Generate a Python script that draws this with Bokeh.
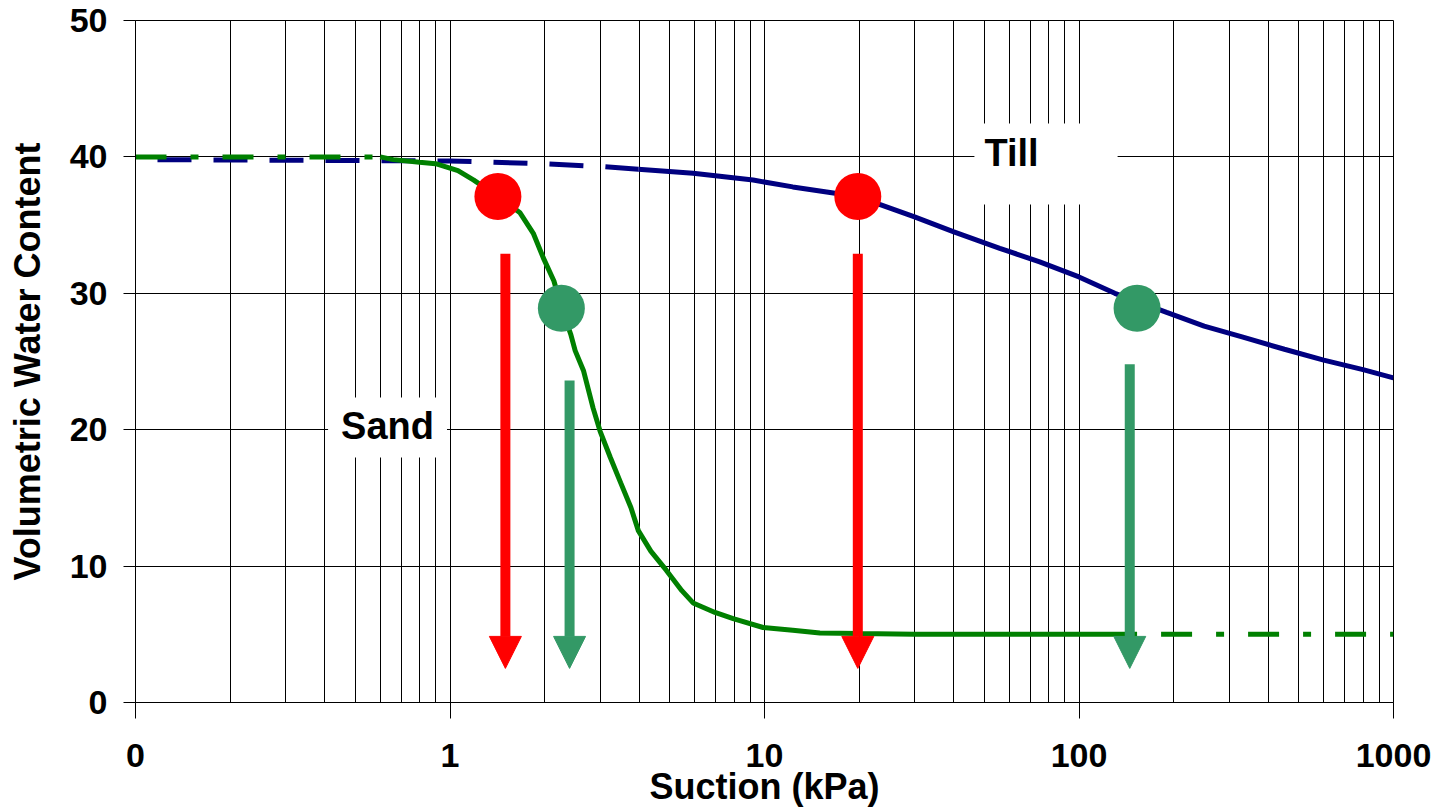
from bokeh.plotting import figure
from bokeh.models import (FixedTicker, Range1d, Label, Arrow, NormalHead,
                          ColumnDataSource)
from bokeh.embed import file_html
from bokeh.resources import INLINE

# ---------------- data ----------------
sand_suction = [0.1, 0.6, 0.66, 0.8, 0.9, 1.06, 1.19, 1.42, 1.67, 1.84, 1.98,
                2.14, 2.26, 2.42, 2.5, 2.66, 2.85, 3.0, 3.23, 3.49, 3.76,
                3.97, 4.35, 4.87, 5.46, 5.93, 6.96, 7.95, 9.9, 12.3, 15, 20,
                30, 153, 1000]
sand_wc = [40, 40, 39.8, 39.6, 39.5, 39.0, 38.3, 37.1, 35.9, 34.4, 32.6,
           30.9, 29.0, 27.0, 25.8, 24.3, 21.6, 19.9, 18.0, 16.1, 14.3,
           12.6, 11.1, 9.7, 8.2, 7.3, 6.6, 6.15, 5.5, 5.3, 5.1, 5.05,
           5.0, 5.0, 5.0]
sand_solid_from = 0.6
sand_solid_to = 153

till_suction = [0.1, 1.0, 2.0, 3.0, 3.97, 5.93, 9.2, 12.3, 19.7, 30, 40, 56,
                75, 100, 130, 190, 250, 330, 450, 600, 800, 1000]
till_wc = [39.8, 39.7, 39.5, 39.3, 39.1, 38.8, 38.3, 37.8, 37.1, 35.6, 34.5,
           33.3, 32.3, 31.2, 30.0, 28.6, 27.6, 26.8, 25.9, 25.1, 24.4, 23.8]
till_solid_from = 3.97

red_dot_suction = [1.42, 19.8]
red_dot_wc = [37.1, 37.1]
green_dot_suction = [2.26, 153]
green_dot_wc = [28.9, 28.9]

red_arrow_suction = [1.5, 19.8]
red_arrow_top = [32.9, 32.9]
green_arrow_suction = [2.4, 145]
green_arrow_top = [23.6, 24.8]
arrow_tip = 2.5

x_ticks = [0.1, 1, 10, 100, 1000]
x_tick_labels = ["0", "1", "10", "100", "1000"]
y_ticks = [0, 10, 20, 30, 40, 50]

FONT = "Liberation Sans"


def seg(xs, ys, lo, hi):
    sx, sy = [], []
    for a, b in zip(xs, ys):
        if lo <= a <= hi:
            sx.append(a)
            sy.append(b)
    return sx, sy


p = figure(width=1436, height=809, x_axis_type="log",
           x_range=Range1d(0.1, 1000), y_range=Range1d(0, 50),
           output_backend="svg", toolbar_location=None,
           min_border_left=135, min_border_right=43,
           min_border_top=20, min_border_bottom=107)
p.background_fill_color = "white"
p.border_fill_color = "white"
p.outline_line_color = "black"
p.outline_line_width = 1

# grid
minor = [m * 10.0 ** k for k in range(-1, 3) for m in range(2, 10)]
xt = FixedTicker(ticks=x_ticks, minor_ticks=minor)
p.xaxis.ticker = xt
p.xgrid.ticker = xt
p.xgrid.grid_line_color = "black"
p.xgrid.grid_line_width = 1
p.xgrid.minor_grid_line_color = "black"
p.xgrid.minor_grid_line_width = 1
p.yaxis.ticker = FixedTicker(ticks=y_ticks)
p.ygrid.grid_line_color = "black"
p.ygrid.grid_line_width = 1

p.xaxis.major_label_overrides = {t: l for t, l in zip(x_ticks, x_tick_labels)}

for ax in (p.xaxis[0], p.yaxis[0]):
    ax.axis_line_color = "black"
    ax.major_tick_line_color = "black"
    ax.minor_tick_line_color = None
    ax.major_tick_in = 0
    ax.major_label_text_font = FONT
    ax.major_label_text_font_style = "bold"
    ax.major_label_text_font_size = "34px"
    ax.major_label_text_color = "black"
    ax.axis_label_text_font = FONT
    ax.axis_label_text_font_style = "bold"
    ax.axis_label_text_font_size = "36px"
    ax.axis_label_text_color = "black"

p.xaxis.major_tick_out = 16
p.xaxis.major_label_standoff = 25
p.xaxis.axis_label = "Suction (kPa)"
p.xaxis.axis_label_standoff = -4

p.yaxis.major_tick_out = 12
p.yaxis.major_label_standoff = 16
p.yaxis.axis_label = "Volumetric Water Content"
p.yaxis.axis_label_standoff = 19

# ---------------- curves ----------------
tx, ty = seg(till_suction, till_wc, 0.1, till_solid_from)
p.line(tx, ty, line_color="#000080", line_width=5, line_dash="34 22",
       line_dash_offset=34)
tx, ty = seg(till_suction, till_wc, till_solid_from, 1000)
p.line(tx, ty, line_color="#000080", line_width=5)

sx, sy = seg(sand_suction, sand_wc, 0.1, sand_solid_from)
p.line(sx, sy, line_color="#008000", line_width=5, line_dash="31 24 8 24")
sx, sy = seg(sand_suction, sand_wc, sand_solid_from, sand_solid_to)
p.line(sx, sy, line_color="#008000", line_width=5)
sx, sy = seg(sand_suction, sand_wc, sand_solid_to, 1000)
p.line(sx, sy, line_color="#008000", line_width=5, line_dash="31 24 8 24",
       line_dash_offset=63)

# ---------------- dots ----------------
p.scatter(red_dot_suction, red_dot_wc, size=47, fill_color="#FF0000",
          line_color=None)
p.scatter(green_dot_suction, green_dot_wc, size=47, fill_color="#339966",
          line_color=None)

# ---------------- arrows ----------------
for xs, tops, col in ((red_arrow_suction, red_arrow_top, "#FF0000"),
                      (green_arrow_suction, green_arrow_top, "#339966")):
    src = ColumnDataSource(dict(x=xs, y0=tops, y1=[arrow_tip] * len(xs)))
    p.add_layout(Arrow(source=src, x_start="x", y_start="y0", x_end="x",
                       y_end="y1", line_color=col, line_width=10,
                       end=NormalHead(size=32, fill_color=col, line_color=col,
                                      line_width=1)))

# ---------------- labels ----------------
p.add_layout(Label(x=0.633, y=20.16, text="Sand", text_font=FONT,
                   text_font_style="bold", text_font_size="38px",
                   text_color="black",
                   text_align="center", text_baseline="middle",
                   background_fill_color="white",
                   padding=dict(left=13, right=13, top=7, bottom=11)))
p.add_layout(Label(x=46.5, y=39.48, text="Till", text_font=FONT,
                   text_font_style="bold", text_font_size="38px",
                   text_color="black",
                   text_align="left", text_baseline="middle",
                   background_fill_color="white",
                   padding=dict(left=10, right=79, top=9, bottom=30)))

open("out.html", "w").write(file_html(p, INLINE))
